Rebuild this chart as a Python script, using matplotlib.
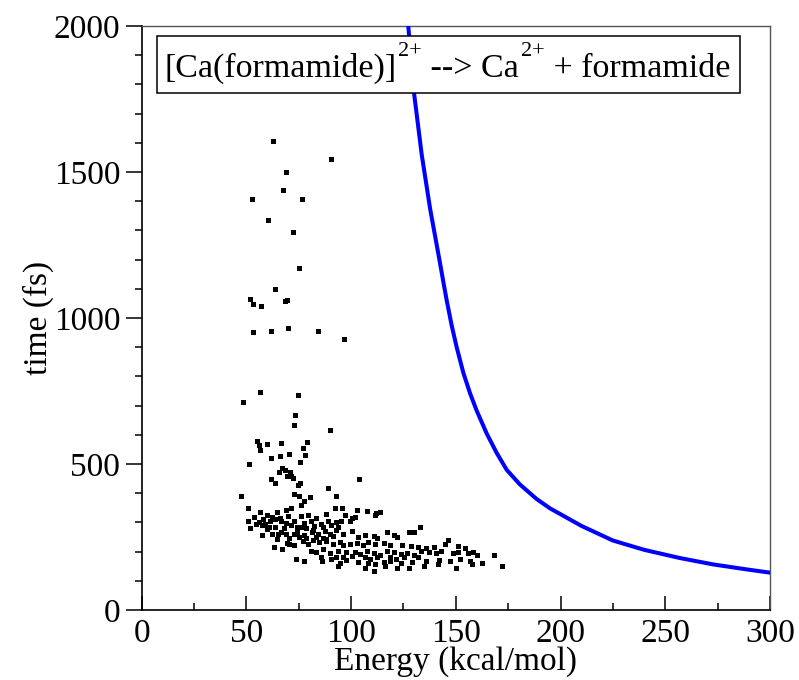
import matplotlib
matplotlib.use("Agg")
import matplotlib.pyplot as plt
from matplotlib.ticker import MultipleLocator
from matplotlib.patches import Rectangle

plt.rcParams['font.family'] = ['Liberation Serif', 'DejaVu Serif']

# sparse points (long dissociation times)
sparse_E = [62.7, 90.4, 68.9, 67.5, 52.7, 76.5, 60.5, 72.2, 75.0, 63.6, 51.6, 53.0,
            56.8, 68.4, 69.4, 53.3, 61.6, 69.9, 84.3, 96.5,
            56.3, 74.6, 48.2, 73.0, 72.7, 90.1, 55.1, 55.9, 60.0, 66.5, 78.9, 76.9,
            56.5, 78.1, 70.5, 66.2, 61.9, 51.4, 75.4, 67.0, 68.6, 70.8, 65.7, 71.4,
            69.2, 72.1, 61.9, 63.8, 75.6, 74.8, 103.6, 89.0]
sparse_t = [1607, 1543, 1500, 1437, 1407, 1407, 1337, 1296, 1170, 1098, 1064, 1047,
            1041, 1058, 1062, 953, 956, 965, 956, 927,
            747, 737, 712, 667, 633, 618, 579, 566, 567, 572, 574, 556,
            548, 532, 534, 527, 522, 500, 506, 487, 480, 474, 472, 459,
            459, 451, 448, 434, 436, 428, 448, 419]

# dense cluster
dense_E = [47.5, 72.8, 75.2, 80.4, 92.9, 77.6, 76.3, 51.0, 56.6, 59.9, 64.7, 69.0,
           71.2, 92.1, 95.8, 102.6, 107.8, 112.0, 113.9, 111.5, 76.0, 79.2, 83.3, 87.8,
           97.0, 100.2, 101.8, 51.0, 56.2, 58.7, 61.5, 63.9, 66.3, 68.7, 72.8, 77.6,
           80.8, 85.7, 88.9, 92.9, 95.4, 99.4, 51.6, 57.5, 60.7, 63.9, 67.9, 71.2,
           76.0, 78.4, 82.5, 86.8, 90.5, 93.7, 133.0, 57.5, 62.3, 66.3, 68.7, 72.8,
           74.4, 77.6, 81.3, 84.1, 87.3, 89.7, 92.9, 96.2, 100.2, 103.4, 106.7, 110.7,
           112.3, 117.1, 120.4, 122.0, 127.6, 130.0, 83.3, 86.5, 91.3, 78.4, 75.2, 64.7,
           70.4, 76.8, 79.2, 81.6, 84.9, 88.1, 91.3, 94.6, 96.2, 99.4, 102.6, 105.9,
           108.3, 111.5, 115.5, 118.8, 124.4, 128.4, 131.7, 135.7, 139.7, 146.2, 144.6, 151.0,
           154.2, 158.3, 70.4, 63.1, 67.1, 72.8, 80.8, 83.3, 86.5, 89.7, 93.7, 97.8,
           101.8, 104.2, 107.5, 110.7, 113.9, 117.1, 120.4, 123.6, 126.8, 130.0, 133.3, 137.3,
           140.5, 143.0, 148.6, 151.0, 155.9, 159.9, 168.4, 85.7, 92.9, 96.2, 100.2, 106.7,
           109.1, 112.3, 118.8, 121.2, 125.2, 131.7, 73.6, 77.6, 86.2, 90.5, 94.6, 97.8,
           103.4, 108.3, 111.5, 115.5, 118.8, 123.6, 129.2, 135.7, 142.1, 147.0, 151.8, 156.7,
           162.3, 106.7, 110.7, 93.7, 122.0, 127.6, 134.9, 141.3, 150.2, 157.5, 172.0, 116.3,
           53.5, 58.0, 62.0, 66.0, 70.0, 74.0, 82.0, 88.0, 54.5, 60.0, 65.0, 69.5]
dense_t = [390, 396, 392, 386, 392, 372, 360, 351, 337, 327, 337, 341,
           351, 348, 348, 341, 339, 333, 337, 325, 321, 327, 315, 330,
           325, 315, 318, 304, 301, 294, 306, 313, 304, 298, 306, 298,
           306, 294, 304, 301, 306, 306, 282, 292, 286, 286, 282, 292,
           286, 280, 289, 286, 292, 286, 286, 256, 262, 268, 259, 259,
           266, 256, 268, 259, 271, 262, 274, 262, 271, 250, 256, 254,
           245, 266, 256, 250, 266, 266, 250, 247, 254, 247, 250, 242,
           245, 235, 227, 239, 233, 235, 227, 233, 221, 227, 230, 223,
           233, 227, 230, 221, 223, 219, 215, 211, 215, 239, 227, 219,
           211, 200, 227, 215, 209, 221, 203, 197, 209, 195, 203, 197,
           200, 191, 203, 195, 188, 203, 197, 191, 195, 188, 203, 197,
           195, 203, 195, 197, 195, 188, 188, 180, 183, 180, 186, 183,
           176, 180, 180, 176, 183, 180, 176, 168, 168, 176, 160, 171,
           164, 162, 156, 164, 168, 162, 164, 168, 171, 168, 176, 168,
           162, 144, 132, 150, 144, 144, 152, 156, 144, 156, 150, 152,
           318, 312, 320, 316, 322, 286, 275, 244, 296, 278, 262, 228]

# blue curve
curve_E = [127.3, 129.7, 133.7, 137.7, 142.4, 144.0, 145.6, 148.0, 150.4, 153.6,
           156.8, 160.0, 164.7, 169.5, 174.3, 180.6, 188.6, 195.0, 210.0, 225.0,
           240.0, 257.0, 273.0, 289.0, 300.0]
curve_t = [2000, 1790, 1560, 1375, 1190, 1125, 1062, 975, 900, 812,
           742, 682, 605, 538, 480, 430, 380, 348, 288, 238,
           206, 178, 156, 139, 128]

fig = plt.figure(figsize=(7.99, 6.80), dpi=100)
ax = fig.add_axes([0.1773, 0.1029, 0.7864, 0.8589])

ax.plot(curve_E, curve_t, color='#0000ff', lw=2.9, zorder=3)
ax.plot(sparse_E + dense_E, sparse_t + dense_t, 's', color='black',
        markersize=3.6, markeredgewidth=0, zorder=4)

ax.set_xlim(0, 300)
ax.set_ylim(0, 2000)
ax.xaxis.set_major_locator(MultipleLocator(50))
ax.xaxis.set_minor_locator(MultipleLocator(25))
ax.yaxis.set_major_locator(MultipleLocator(500))
ax.yaxis.set_minor_locator(MultipleLocator(100))
ax.tick_params(axis='x', which='major', direction='in', length=10, width=1.1,
               labelsize=24, pad=6, top=False)
ax.tick_params(axis='x', which='minor', direction='in', length=5, width=1.1, top=False)
ax.tick_params(axis='y', which='major', direction='out', length=11.5, width=1.1,
               labelsize=24, pad=4, right=False)
ax.tick_params(axis='y', which='minor', direction='out', length=5, width=1.1, right=False)

for s in ['left', 'bottom']:
    ax.spines[s].set_linewidth(1.2)
    ax.spines[s].set_color('black')
for s in ['top', 'right']:
    ax.spines[s].set_linewidth(1.0)
    ax.spines[s].set_color('#555555')

ax.set_xlabel('Energy (kcal/mol)', fontsize=24, labelpad=-2)
ax.set_ylabel('time (fs)', fontsize=24, labelpad=0)

# title box, built from pieces so the superscripts sit high like in the original
ax.add_patch(Rectangle((0.024, 0.885), 0.928, 0.098, transform=ax.transAxes,
                       fc='white', ec='black', lw=1.1, zorder=5))
base = 0.913
fs_main, fs_sup = 24.5, 16
t1 = ax.text(0.036, base, '[Ca(formamide)]', transform=ax.transAxes,
             va='baseline', ha='left', fontsize=fs_main, zorder=6)
t2 = ax.annotate('2+', xy=(1, base), xycoords=(t1, ax.transAxes),
                 xytext=(1.5, 15), textcoords='offset points',
                 va='baseline', ha='left', fontsize=fs_sup, zorder=6)
t3 = ax.annotate(' --> Ca', xy=(1, base), xycoords=(t2, ax.transAxes),
                 xytext=(0, 0), textcoords='offset points',
                 va='baseline', ha='left', fontsize=fs_main, zorder=6)
t4 = ax.annotate('2+', xy=(1, base), xycoords=(t3, ax.transAxes),
                 xytext=(1.5, 15), textcoords='offset points',
                 va='baseline', ha='left', fontsize=fs_sup, zorder=6)
t5 = ax.annotate(' + formamide', xy=(1, base), xycoords=(t4, ax.transAxes),
                 xytext=(0, 0), textcoords='offset points',
                 va='baseline', ha='left', fontsize=fs_main, zorder=6)

fig.savefig('out.png', dpi=100)
